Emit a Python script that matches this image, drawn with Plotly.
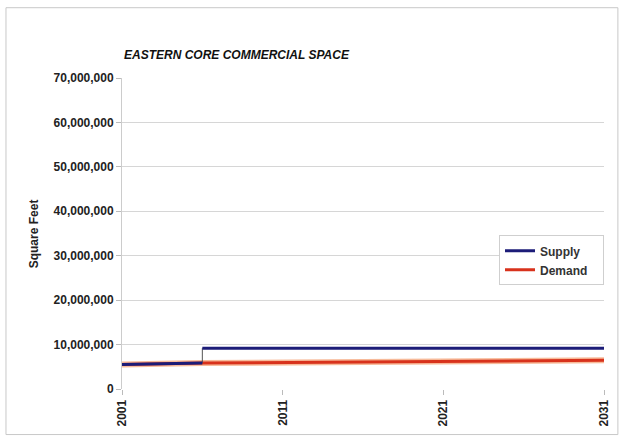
import plotly.graph_objects as go

# Eastern Core commercial space, square feet
years_axis = [2001, 2011, 2021, 2031]

supply_years = [2001, 2006, 2006, 2031]
supply_sqft = [5500000, 5850000, 9200000, 9200000]

demand_years = [2001, 2006, 2031]
demand_sqft = [5500000, 5850000, 6450000]

y_ticks = [0, 10000000, 20000000, 30000000, 40000000, 50000000, 60000000, 70000000]

FONT = "Liberation Sans, Arial, sans-serif"
NAVY = "#1c1c78"
RED = "#d8321c"

fig = go.Figure()

# demand: soft orange halo under a red core
fig.add_trace(go.Scatter(x=demand_years, y=demand_sqft, mode="lines",
                         line=dict(color="rgba(240,130,70,0.55)", width=6),
                         showlegend=False, hoverinfo="skip"))
fig.add_trace(go.Scatter(x=demand_years, y=demand_sqft, mode="lines",
                         name="Demand&nbsp;&nbsp;&nbsp;",
                         line=dict(color=RED, width=3)))

# supply: thin riser at the step, heavy horizontal runs
fig.add_trace(go.Scatter(x=supply_years[1:3], y=supply_sqft[1:3], mode="lines",
                         line=dict(color="#555555", width=1),
                         showlegend=False, hoverinfo="skip"))
fig.add_trace(go.Scatter(x=supply_years[:2] + [None] + supply_years[2:],
                         y=supply_sqft[:2] + [None] + supply_sqft[2:],
                         mode="lines", name="Supply",
                         line=dict(color=NAVY, width=3)))

fig.update_layout(
    width=623, height=439,
    autosize=False,
    margin=dict(l=122, r=15, t=78, b=47),
    paper_bgcolor="white", plot_bgcolor="white",
    font=dict(family=FONT, size=12, color="#222222"),
    showlegend=True,
    legend=dict(x=1.0, y=0.494, xanchor="right", yanchor="top",
                bordercolor="#cfcfcf", borderwidth=1, bgcolor="white",
                traceorder="reversed",
                font=dict(family=FONT, size=12, color="#333333", weight="bold")),
    xaxis=dict(range=[2001, 2031], tickvals=years_axis, ticktext=[str(v) for v in years_axis],
               tickangle=-90, showgrid=False, zeroline=False,
               showline=False, ticks="outside", ticklen=5, tickcolor="#bbbbbb",
               tickfont=dict(family=FONT, size=12, color="#222222", weight="bold")),
    yaxis=dict(range=[0, 70000000], tickvals=y_ticks, tickformat=",",
               showgrid=True, gridcolor="#d6d6d6", gridwidth=1, zeroline=False,
               showline=True, linecolor="#cccccc", linewidth=1,
               ticks="outside", ticklen=5, tickcolor="#bbbbbb",
               tickfont=dict(family=FONT, size=12, color="#222222", weight="bold")),
    annotations=[
        dict(text="<b><i>EASTERN CORE COMMERCIAL SPACE</i></b>", xref="paper", yref="paper",
             x=0.0, y=1.073, xanchor="left", yanchor="middle", showarrow=False,
             font=dict(family=FONT, size=12, color="#111111")),
        dict(text="<b>Square Feet</b>", xref="paper", yref="paper",
             x=-0.183, y=0.5, xanchor="center", yanchor="middle", textangle=-90,
             showarrow=False, font=dict(family=FONT, size=12, color="#222222")),
    ],
    shapes=[
        dict(type="rect", xref="paper", yref="paper",
             x0=-0.2407, x1=1.0288, y0=-0.1465, y1=1.226,
             line=dict(color="#c8c8c8", width=1), fillcolor="rgba(0,0,0,0)", layer="below"),
    ],
)

fig.write_html("out.html")
